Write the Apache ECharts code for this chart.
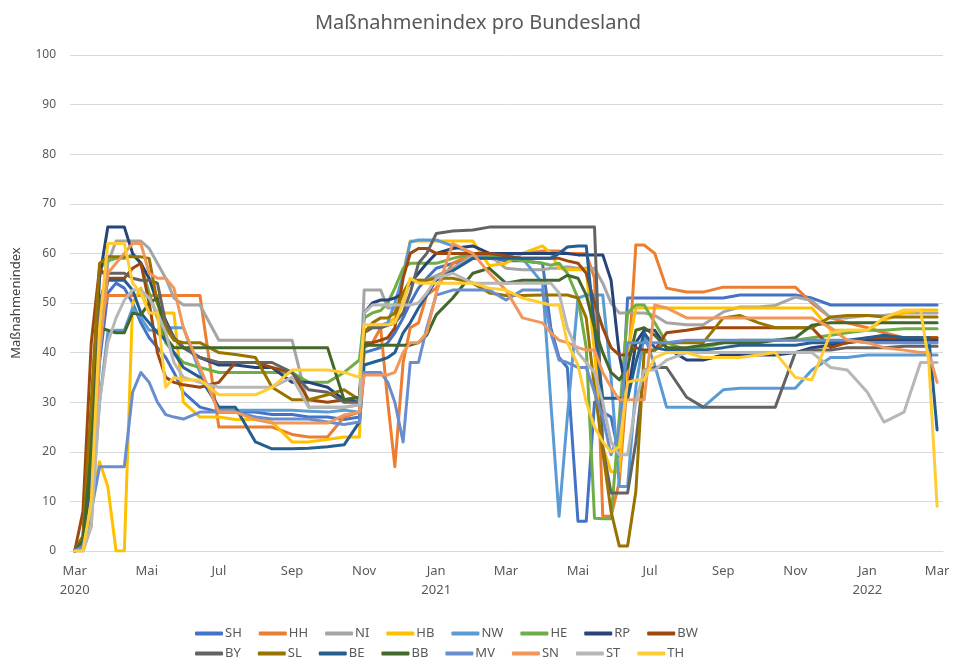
<!DOCTYPE html>
<html>
<head>
<meta charset="utf-8">
<script src="https://cdn.jsdelivr.net/npm/echarts@6/dist/echarts.min.js"></script>
<style>
  html, body { margin: 0; padding: 0; background: #fff; }
  #chart { width: 956px; height: 660px; }
</style>
</head>
<body>
<div id="chart"></div>
<script>
// Stichtage (gemeinsames Raster fuer alle Laender)
const dates = [
  '2020-03-01','2020-03-08','2020-03-15','2020-03-22','2020-03-29','2020-04-05','2020-04-12','2020-04-19','2020-04-26','2020-05-03',
  '2020-05-10','2020-05-17','2020-05-24','2020-06-01','2020-06-15','2020-07-01','2020-07-15','2020-08-01','2020-08-15','2020-09-01',
  '2020-09-15','2020-10-01','2020-10-15','2020-10-28','2020-11-01','2020-11-08','2020-11-15','2020-11-21','2020-11-27','2020-12-04',
  '2020-12-10','2020-12-17','2020-12-24','2021-01-01','2021-01-15','2021-02-01','2021-02-15','2021-03-01','2021-03-15','2021-04-01',
  '2021-04-08','2021-04-15','2021-04-22','2021-05-01','2021-05-08','2021-05-15','2021-05-22','2021-05-29','2021-06-05','2021-06-12',
  '2021-06-19','2021-06-26','2021-07-05','2021-07-15','2021-08-01','2021-08-15','2021-09-01','2021-09-15','2021-10-01','2021-10-15',
  '2021-11-01','2021-11-15','2021-12-01','2021-12-15','2022-01-01','2022-01-15','2022-02-01','2022-02-15','2022-02-22','2022-03-01'
]

const tickDates = ['2020-03-01','2020-05-01','2020-07-01','2020-09-01','2020-11-01','2021-01-01','2021-03-01',
  '2021-05-01','2021-07-01','2021-09-01','2021-11-01','2022-01-01','2022-03-01']
const tickLabels = ['Mar\n2020','Mai','Jul','Sep','Nov','Jan\n2021','Mar','Mai','Jul','Sep','Nov','Jan\n2022','Mar']

const states = ['SH','HH','NI','HB','NW','HE','RP','BW','BY','SL','BE','BB','MV','SN','ST','TH']

const SH = [0,1,12,38,52,54,53,50,46,43, 41,39,36,32,29,28,28,28,27.5,27.5, 27,27,26.5,27,40,40.5,41,42,44,47,
  50,53,55,57,58,59,59,58.5,58.5,58, 45,39,37,6,6,30,28,27,19,51, 51,51,51,51,51,51,51,51.6,51.6,51.6,
  51.6,51,49.6,49.6,49.6,49.6,49.6,49.6,49.6,49.6]
const HH = [0,1,18,46,51.5,51.5,51.5,51.5,51.5,51.5, 51.5,51.5,51.5,51.5,51.5,25,25,25,25,23.5, 23,23,27,28,41,42,45,30,17,38,
  45,46,51.6,53,58,60,59,60,60,60.5, 60.5,60.5,60,60,60,55,7,7,14,35, 61.7,61.7,60,53,52.2,52.2,53.2,53.2,53.2,53.2,
  53.2,50,47,46,45,44,43,43,43,43]
const NI = [0,2,14,40,58,62.5,62.5,62.5,62.5,61, 58,55,51,49.6,49.6,42.5,42.5,42.5,42.5,42.5, 29,29,29,29.5,52.6,52.6,52.6,49,49,50,
  54.6,54.6,54.6,55.5,57,59.6,59.6,57,56.7,56.7, 57,57,57.3,57,57,57,54,50,48,48, 48,48,47.5,46,45.6,45.6,48.2,49.2,49.2,49.5,
  51.2,50.5,47,47,47.5,47.5,48,48,48,48]
const HB = [0,2,10,18,13,0,0,50,53,48, 48,48,48,30,27,27,26.5,26.5,26,22, 22,22.5,23,23,44.5,45,45.5,46,47,56,
  62.5,62.5,62.5,62.5,62.5,62.5,57.5,58,60,61.5, 60,57,56.7,56.7,56.7,40,21,16,16,40, 49,49,49,49,49,49,49,49,49,49,
  49,49,44.5,44.5,44.5,46.5,48,48.6,48.6,48.6]
const NW = [0,1,8,30,44,44.5,44.5,49,47,44.5, 44.5,45,45,45,36,28.5,28.4,28.4,28.4,28.4, 28.2,28,28.4,28,44,45.5,45.5,46,50,55.6,
  62.3,62.7,62.7,62.7,61.5,60,59,59.5,59,54, 30,7,27,51,51.6,51.6,51.6,35,13,13, 33,43.5,37.5,29,29,29,32.5,32.8,32.8,32.8,
  32.8,36.5,39,39,39.5,39.5,39.5,39.5,39.5,39.5]
const HE = [0,2,25,57,58.5,59,59,59.7,58,52, 47,42,40,38,37,36,36,36,36,36, 34,34,36,38.5,47,48,48.5,50,53,57,
  58,58,58,58,59,60,59.5,59,58.5,58, 57.6,58,56,51,41,6.6,6.5,6.5,27,48, 49.6,49.6,46,42,40.5,41,42,42.5,42.5,42.5,
  42.5,43,43.5,44,44.5,44.5,44.8,44.8,44.8,44.8]
const RP = [0,3,25,55,65.3,65.3,65.3,60,58,55, 50,46.5,43,41,39,37.5,37.5,37,37,34, 34,33,30.5,30,48,50,50.6,50.6,51,52,
  54,56,58,60,61,61.5,60,60,60,60, 60,60,60,59.7,59.7,59.7,59.7,54.6,39.5,31, 42,44.5,44.5,41,38.5,38.5,39.5,39.5,39.5,39.5,
  40,41,41.5,42,42.5,42.5,42.5,42.5,42.5,42.5]
const BW = [0,8,42,57,55,55,55,57,58,50, 40,35,34,33.5,33,34,38,38,37,36, 30.5,30,30.5,31,42,42,42.5,43,45,55,
  60,61,61,60,60,60,60,59.5,59,59, 59,59,58.5,58,56,50,45,41,39.5,39.5, 41,40.5,40.5,44,44.5,45,45,45,45,45,
  45,45,41,42,43,43,43,43,43,43]
const BY = [0,2,20,50,56,56,56,55,54.6,54.6, 54,46,43,41,39,38,38,38,38,36, 32.5,32,30,30,44,45,45,45.5,46,48,
  52,58,60,64,64.5,64.7,65.3,65.3,65.3,65.3, 65.3,65.3,65.3,65.3,65.3,65.3,21,11.7,11.7,11.7, 22,36.5,37,37,31,29,29,29,29,29,
  40,40.5,40.5,41,41,41,41.3,41.3,41.3,41.3]
const SL = [0,3,30,58,59.3,59.3,59.3,59.3,59.3,59, 50,45,42.5,42,42,40,39.6,39,33,30.5, 30.5,31.5,32.5,30.5,44,46,47,47,48,52,
  54.6,54.6,54.6,55,55,54,52,51.5,51.5,51.6, 51.6,51.6,51.6,51,47,33,20,8,1,1, 12,40,40.5,42,42,42,47,47.5,46,45,
  45,45,47.2,47.5,47.5,47.2,47.2,47.2,47.2,47.2]
const BE = [0,2,15,45,54.6,54.6,54.6,52.6,48,46, 44,42.5,40,37,35,29,29,22,20.6,20.6, 20.7,21,21.4,26,37.5,38,38.5,39,40,44,
  46,49,51.6,54.6,56.5,59,59,59,59,59, 59,60,61.3,61.5,61.5,45,30.8,30.8,30.8,30.8, 38,44,41,40.5,40.5,40.5,41,41.5,41.5,41.5,
  41.5,42,42,42.5,43,43.5,43,43,43,24.4]
const BB = [0,2,20,45,44.5,44,44,48,47.6,50, 51,43,41,41,41,41,41,41,41,41, 41,41,30.5,31,41.5,41.5,41.5,41.5,41.5,41.5,
  41.5,42,43.5,47.6,51,56,57,54,54.6,54.6, 54.6,54.6,55.6,55,51.6,45,40,36,34.5,37, 44.5,45,43.5,41,41,41.5,42,42,42,42.5,
  43,45.5,46,46,46,46,46,46,46,46]
const MV = [0,1,8,17,17,17,17,32,36,34, 30,27.5,27,26.6,28,28,28,27,26.6,26.6, 26.6,26,25.5,26,36,36,36,34,30,22,
  38,38,45,51.6,52.6,52.6,52.6,50.6,52.6,52.6, 44,38.5,38,37,37,32,27,19.4,24,42, 42,42,42,42,42.5,42.5,42.5,42.5,42.5,42.5,
  42.5,42.5,42.5,42.5,42,42,42,42,42,42]
const SN = [0,0,5,40,56,58,60,62,62,56, 55,55,53,45,37,28,28,26.5,25.8,25.8, 25.8,25.8,27.4,28,35.5,35.5,35.5,35.5,36,40,
  42,42,44,52,62,60,56,52.6,47,46, 44,42.5,42,41,40.5,40.5,36,33,30.5,30.5, 30.5,30.5,49.6,49,47,47,47,47,47,47,
  47,47,45,42.5,42,41,40.5,40,40,34]
const ST = [0,0,5,30,42,47,50.6,52.6,52.6,51, 48,44,38,35,34,33,33,33,33,35, 29,29,29,29.5,48,49.6,49.6,49.6,49.6,49.6,
  49.6,50,52,55,56,54,54,54,54,54, 54,52,45,40,38,36,30,22,19.4,19.4, 30,36.5,36.5,38.5,40,40,40,40,40,40,
  40,40,37,36.5,32,26,28,38,38,38]
const TH = [0,0,10,45,62,62,62,54,52,48, 48,33,35,34.5,34.5,31.5,31.5,31.5,33,36.5, 36.5,36.5,36,35,45.6,45.6,45.6,45.6,46,50,
  55,54,54,54,54,54,53,52.6,51,50, 49.6,49.6,42,37.5,30,25,22,20,21,34, 34.5,34.5,39,40,40,39,39,39,39.5,40,
  35,34.5,44,44.5,44.5,47,48.6,48.6,38,9]

const values = { SH, HH, NI, HB, NW, HE, RP, BW, BY, SL, BE, BB, MV, SN, ST, TH }

const colors = ['#4472C4','#ED7D31','#A5A5A5','#FFC000','#5B9BD5','#70AD47','#264478','#9E480E',
  '#636363','#997300','#255E91','#43682B','#698ED0','#F1975A','#B7B7B7','#FFCD33']

// Tage seit 1. Maerz 2020
const start = Date.UTC(2020, 2, 1)
const toDay = (s) => {
  const [y, m, d] = s.split('-').map(Number)
  return Math.round((Date.UTC(y, m - 1, d) - start) / 86400000)
}
const days = dates.map(toDay)
const tickDays = tickDates.map(toDay)

const font = 'Noto Sans'
const grey = '#595959'

const chart = echarts.init(document.getElementById('chart'))

const legendBase = {
  left: 190,
  icon: 'roundRect',
  itemWidth: 28,
  itemHeight: 4,
  itemGap: 17,
  textStyle: { color: grey, fontSize: 13, fontFamily: font, width: 32, overflow: 'truncate', padding: [0, 0, 0, -3] }
}

chart.setOption({
  animation: false,
  color: colors,
  title: {
    text: 'Maßnahmenindex pro Bundesland',
    left: 'center',
    top: 8,
    textStyle: { color: grey, fontSize: 20, fontWeight: 'normal', fontFamily: font }
  },
  legend: [
    Object.assign({}, legendBase, { top: 622, data: states.slice(0, 8) }),
    Object.assign({}, legendBase, { top: 642, data: states.slice(8) })
  ],
  grid: { left: 70, right: 13, top: 55, bottom: 109 },
  xAxis: {
    type: 'value',
    min: -4,
    max: 735,
    axisLine: { lineStyle: { color: '#d9d9d9', width: 1 } },
    axisTick: { show: false },
    splitLine: { show: false },
    axisLabel: {
      customValues: tickDays,
      color: grey,
      fontSize: 13,
      fontFamily: font,
      lineHeight: 19,
      margin: 11,
      formatter: (v) => tickLabels[tickDays.indexOf(v)] || ''
    }
  },
  yAxis: {
    type: 'value',
    min: 0,
    max: 100,
    interval: 10,
    name: 'Maßnahmenindex',
    nameLocation: 'middle',
    nameGap: 47,
    nameTextStyle: { color: '#404040', fontSize: 13, fontFamily: font },
    axisLine: { show: false },
    axisTick: { show: false },
    axisLabel: { color: grey, fontSize: 12, fontFamily: font, margin: 14 },
    splitLine: { lineStyle: { color: '#d9d9d9', width: 1 } }
  },
  series: states.map((s) => ({
    name: s,
    type: 'line',
    showSymbol: false,
    symbol: 'none',
    lineStyle: { width: 3, cap: 'round', join: 'round' },
    data: values[s].map((v, i) => [days[i], v])
  }))
})
</script>
</body>
</html>
